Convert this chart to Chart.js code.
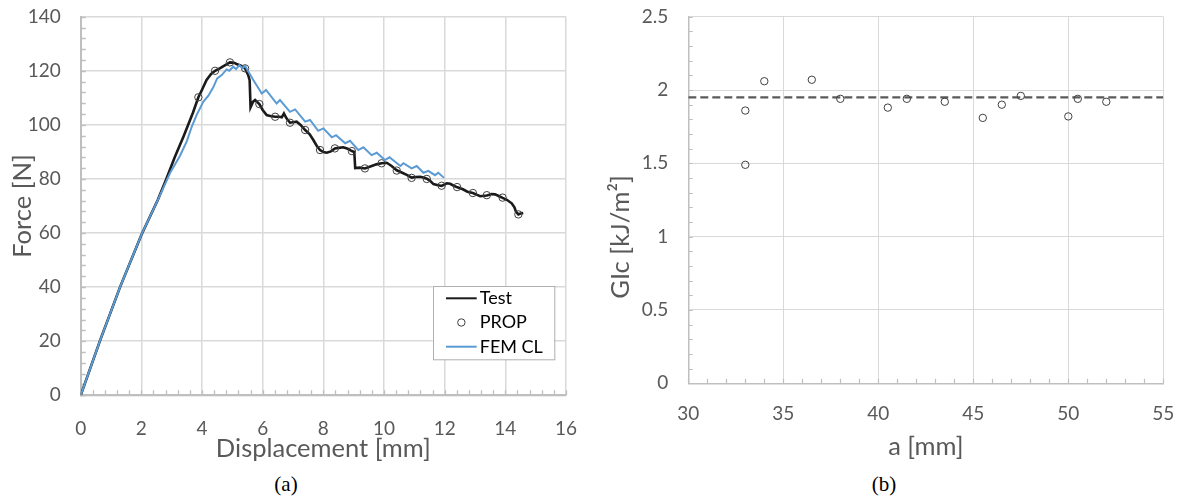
<!DOCTYPE html>
<html>
<head>
<meta charset="utf-8">
<script src="https://cdn.jsdelivr.net/npm/chart.js@4.4.1/dist/chart.umd.min.js"></script>
<style>
  body { margin: 0; background: #fff; width: 1178px; height: 498px; position: relative; overflow: hidden; }
  canvas { position: absolute; top: 0; }
  #forceChart { left: 0; }
  #gicChart { left: 590px; }
  .caption { position: absolute; top: 472px; font-family: "Liberation Serif", serif; font-size: 21px; line-height: 24px; color: #000; transform: translateX(-50%); }
</style>
</head>
<body>
<canvas id="forceChart" width="590" height="470"></canvas>
<canvas id="gicChart" width="588" height="470"></canvas>
<div class="caption" style="left:286px">(a)</div>
<div class="caption" style="left:884px">(b)</div>
<script>
// (a) force vs displacement
var testX = [0, 0.64, 1.30, 2.0, 2.54, 2.81, 3.1, 3.4, 3.7, 3.88, 4.0, 4.15, 4.3, 4.43, 4.6, 4.75, 4.92, 5.05, 5.14, 5.3, 5.42, 5.52, 5.57,
    5.60, 5.68, 5.75, 5.89, 6.0, 6.13, 6.25, 6.41, 6.55, 6.63, 6.70, 6.78, 6.90, 7.0, 7.12, 7.25, 7.40, 7.55, 7.67, 7.78, 7.89,
    8.0, 8.11, 8.25, 8.38, 8.5, 8.66, 8.8, 8.94, 9.02, 9.05, 9.2, 9.37, 9.55, 9.75, 9.92, 10.09, 10.25, 10.42, 10.6, 10.75, 10.91,
    11.05, 11.19, 11.3, 11.41, 11.52, 11.63, 11.75, 11.90, 12.07, 12.18, 12.3, 12.42, 12.6, 12.75, 12.93, 13.05, 13.17, 13.39,
    13.55, 13.66, 13.8, 13.91, 14.05, 14.21, 14.3, 14.35, 14.43, 14.5, 14.59];
var testY = [0, 20.3, 40.1, 59.3, 72.2, 79.6, 88, 96, 104.5, 110.2, 113, 116.6, 118.8, 120, 121, 122, 123.1, 123, 122.5, 121.8, 120.9, 118.5, 116.5,
    106.5, 108.5, 109.2, 107.7, 105.5, 103.6, 103.3, 103.0, 103.0, 102.8, 104.2, 102.5, 100.8, 101.0, 101.2, 100, 98.1, 96.5, 94.4, 92.3, 90.7,
    90, 89.7, 90.2, 91.3, 91.5, 91.7, 91.2, 90.3, 90, 84, 84.2, 83.9, 84.6, 85.4, 85.8, 86.0, 84.8, 83.2, 82.3, 81.5, 80.5,
    80.7, 80.8, 80.5, 80.1, 79.3, 78.1, 77.8, 77.4, 78.4, 78.2, 77.5, 76.9, 76.2, 75.3, 74.8, 74.2, 73.6, 73.9,
    74.4, 74.3, 73.6, 73.0, 72.3, 71.0, 69.5, 67.9, 66.9, 67.2, 67.4];

var propX = [3.88, 4.43, 4.92, 5.42, 5.89, 6.41, 6.90, 7.40, 7.89, 8.38, 8.94, 9.37, 9.92, 10.42, 10.91, 11.41, 11.90, 12.41, 12.93, 13.39, 13.91, 14.43];
var propY = [110.2, 120.0, 123.1, 120.9, 107.7, 103.0, 100.8, 98.1, 90.7, 91.3, 90.3, 83.9, 85.8, 83.1, 80.4, 80.0, 77.5, 77.0, 74.8, 74.0, 73.1, 66.9];

var femX = [0, 0.64, 1.30, 2.0, 2.54, 2.95, 3.27, 3.5, 3.66, 3.82, 4.04, 4.21, 4.37, 4.5, 4.65, 4.81, 4.9, 5.03, 5.12, 5.23, 5.33, 5.42,
    5.69, 5.97, 6.11, 6.46, 6.57, 6.90, 7.07, 7.40, 7.56, 7.83, 8.00, 8.28, 8.42, 8.72, 8.88, 9.15, 9.32, 9.59, 9.76,
    10.03, 10.18, 10.54, 10.64, 10.91, 11.08, 11.30, 11.46, 11.68, 11.79, 11.98];
var femY = [0, 20.3, 40.1, 59.3, 72.2, 82.3, 88.5, 94, 99.3, 103.6, 108.5, 110.8, 113.9, 117.2, 118.4, 120.5, 120.0, 121.5, 120.6, 122.1, 121.0, 121.8,
    116.6, 111.6, 112.9, 107.9, 109.2, 104.8, 105.7, 101.2, 101.8, 97.8, 98.7, 95.4, 96.2, 93.2, 94.1, 90.7, 91.7, 88.8, 89.7,
    87.0, 88.0, 84.8, 85.8, 83.9, 84.8, 82.3, 83.0, 81.4, 82.3, 80.4];

// (b) GIc vs crack length
var crackA = [33, 33, 34, 36.5, 38, 40.5, 41.5, 43.5, 45.5, 46.5, 47.5, 50, 50.5, 52];
var gicValues = [1.86, 1.49, 2.06, 2.07, 1.94, 1.88, 1.94, 1.92, 1.81, 1.90, 1.96, 1.82, 1.94, 1.92];
var gicMean = 1.95;

var axisGray = "#bfbfbf";
var gridGray = "#d9d9d9";
var labelGray = "#595959";
var sans = "Lato, 'Open Sans', sans-serif";
var tickSize = 19;
var titleSize = 25.5;

function toPoints(xs, ys) {
    return xs.map(function (x, i) { return { x: x, y: ys[i] }; });
}

// pin the plot box so the panels line up; drop the label overhang padding
function fixWidth(w) {
    return function (scale) { scale.width = w; scale.paddingTop = 0; scale.paddingBottom = 0; };
}
function fixHeight(h) {
    return function (scale) { scale.height = h; scale.paddingLeft = 0; scale.paddingRight = 0; };
}
function plainNumber(v) { return String(v); }

// short inner ticks between the major gridlines
var minorTicks = {
    id: "minorTicks",
    beforeDatasetsDraw: function (chart, args, opts) {
        var ctx = chart.ctx, area = chart.chartArea;
        var xs = chart.scales.x, ys = chart.scales.y;
        var i, n;
        ctx.save();
        ctx.strokeStyle = opts.color;
        ctx.lineWidth = opts.width;
        ctx.beginPath();
        n = Math.round((xs.max - xs.min) / opts.xStep);
        for (i = 0; i <= n; i++) {
            var px = Math.round(xs.getPixelForValue(xs.min + i * opts.xStep)) + 0.5;
            ctx.moveTo(px, area.bottom);
            ctx.lineTo(px, area.bottom - opts.length);
        }
        n = Math.round((ys.max - ys.min) / opts.yStep);
        for (i = 0; i <= n; i++) {
            var py = Math.round(ys.getPixelForValue(ys.min + i * opts.yStep)) + 0.5;
            ctx.moveTo(area.left, py);
            ctx.lineTo(area.left + opts.length, py);
        }
        ctx.stroke();
        ctx.restore();
    }
};

// boxed legend sitting inside the plot
var boxLegend = {
    id: "boxLegend",
    afterDraw: function (chart, args, opts) {
        if (!opts.width) return;
        var ctx = chart.ctx;
        ctx.save();
        ctx.fillStyle = "#fff";
        ctx.fillRect(opts.left, opts.top, opts.width, opts.height);
        ctx.strokeStyle = opts.borderColor;
        ctx.lineWidth = 1;
        ctx.strokeRect(Math.round(opts.left) + 0.5, Math.round(opts.top) + 0.5, opts.width, opts.height);
        ctx.font = opts.font;
        ctx.textBaseline = "middle";
        chart.data.datasets.forEach(function (ds, i) {
            var y = opts.top + opts.firstRow + i * opts.rowGap;
            var x0 = opts.left + opts.sampleLeft;
            ctx.beginPath();
            if (ds.showLine === false) {
                ctx.arc(x0 + opts.sampleWidth / 2, y, ds.pointRadius, 0, 2 * Math.PI);
                ctx.strokeStyle = ds.pointBorderColor;
                ctx.lineWidth = ds.pointBorderWidth;
            } else {
                ctx.moveTo(x0, y);
                ctx.lineTo(x0 + opts.sampleWidth, y);
                ctx.strokeStyle = ds.borderColor;
                ctx.lineWidth = 2;
            }
            ctx.stroke();
            ctx.fillStyle = "#000";
            ctx.fillText(ds.label, x0 + opts.sampleWidth + opts.textGap, y);
        });
        ctx.restore();
    }
};

// rotated y title placed by hand (sits below the plot middle)
var sideTitle = {
    id: "sideTitle",
    afterDraw: function (chart, args, opts) {
        if (!opts.text) return;
        var ctx = chart.ctx;
        ctx.save();
        ctx.translate(opts.x, opts.y);
        ctx.rotate(-Math.PI / 2);
        ctx.font = opts.font;
        ctx.fillStyle = opts.color;
        ctx.textAlign = "center";
        ctx.textBaseline = "middle";
        ctx.fillText(opts.text, 0, 0);
        ctx.restore();
    }
};

Chart.defaults.font.family = sans;

new Chart(document.getElementById("forceChart"), {
    type: "line",
    data: {
        datasets: [
            { label: "Test", data: toPoints(testX, testY), borderColor: "#1a1a1a", borderWidth: 2.6, pointRadius: 0, order: 2 },
            { label: "PROP", data: toPoints(propX, propY), showLine: false, pointRadius: 3.7,
              pointBorderColor: "#404040", pointBackgroundColor: "rgba(0,0,0,0)", pointBorderWidth: 1, order: 1 },
            { label: "FEM CL", data: toPoints(femX, femY), borderColor: "#5b9bd5", borderWidth: 2, pointRadius: 0, order: 0 }
        ]
    },
    options: {
        responsive: false,
        animation: false,
        events: [],
        layout: { padding: { left: 0, right: 24, top: 16.7, bottom: 0 } },
        scales: {
            x: {
                type: "linear", min: 0, max: 16,
                ticks: { stepSize: 2, padding: 22, color: labelGray, font: { size: tickSize } },
                grid: { color: gridGray, lineWidth: 1.5, drawTicks: false },
                border: { color: axisGray, width: 2 },
                title: { display: true, text: "Displacement [mm]", color: labelGray, font: { size: titleSize }, padding: { top: 0, bottom: 6 } },
                afterFit: fixHeight(470 - 395.3)
            },
            y: {
                min: 0, max: 140,
                ticks: { stepSize: 20, padding: 20, color: labelGray, font: { size: tickSize } },
                grid: { color: gridGray, lineWidth: 1.5, drawTicks: false },
                border: { color: axisGray, width: 2 },
                title: { display: true, text: "Force [N]", color: labelGray, font: { size: titleSize }, padding: { top: 7, bottom: 0 } },
                afterFit: fixWidth(80.7)
            }
        },
        plugins: {
            legend: { display: false },
            tooltip: { enabled: false },
            minorTicks: { xStep: 0.4, yStep: 4, length: 5, color: axisGray, width: 1.3 },
            boxLegend: { left: 432.7, top: 286, width: 121.3, height: 73.3, firstRow: 12.3, rowGap: 24.2,
                         sampleLeft: 13.3, sampleWidth: 30.7, textGap: 3, borderColor: "#b0b0b0", font: "18px " + sans },
            sideTitle: {}
        }
    },
    plugins: [minorTicks, boxLegend, sideTitle]
});

new Chart(document.getElementById("gicChart"), {
    type: "scatter",
    data: {
        datasets: [
            { label: "GIc", data: toPoints(crackA, gicValues), pointRadius: 3.7, pointBorderColor: "#404040",
              pointBackgroundColor: "rgba(0,0,0,0)", pointBorderWidth: 1, order: 0 },
            { label: "mean", type: "line", data: [{ x: 30, y: gicMean }, { x: 55, y: gicMean }], borderColor: "#5a5a5a",
              borderWidth: 2.4, borderDash: [8, 4], pointRadius: 0, order: 1 }
        ]
    },
    options: {
        responsive: false,
        animation: false,
        events: [],
        layout: { padding: { left: 0, right: 14.7, top: 16.7, bottom: 0 } },
        scales: {
            x: {
                type: "linear", min: 30, max: 55,
                ticks: { stepSize: 5, padding: 19, color: labelGray, font: { size: tickSize } },
                grid: { color: gridGray, lineWidth: 1, drawTicks: false },
                border: { color: axisGray, width: 1.5 },
                title: { display: true, text: "a [mm]", color: labelGray, font: { size: titleSize }, padding: { top: 0, bottom: 8 } },
                afterFit: fixHeight(470 - 383.3)
            },
            y: {
                min: 0, max: 2.5,
                ticks: { stepSize: 0.5, padding: 20, color: labelGray, font: { size: tickSize }, callback: plainNumber },
                grid: { color: gridGray, lineWidth: 1, drawTicks: false },
                border: { color: axisGray, width: 1.5 },
                afterFit: fixWidth(98.3)
            }
        },
        plugins: {
            legend: { display: false },
            tooltip: { enabled: false },
            minorTicks: { xStep: 1, yStep: 0.1, length: 4.5, color: axisGray, width: 1.2 },
            boxLegend: {},
            sideTitle: { text: "GIc [kJ/m²]", x: 31, y: 237, color: labelGray, font: titleSize + "px " + sans }
        }
    },
    plugins: [minorTicks, boxLegend, sideTitle]
});
</script>
</body>
</html>
